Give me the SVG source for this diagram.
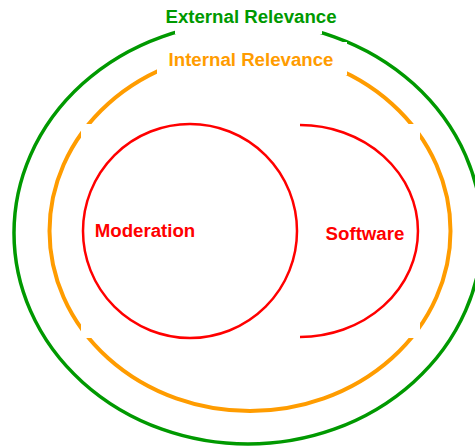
<svg xmlns="http://www.w3.org/2000/svg" width="475" height="448" viewBox="0 0 475 448">
  <style>
    .lbl { font-family: "Liberation Sans", Arial, sans-serif; font-weight: bold; font-size: 18.67px; text-anchor: middle; }
    .mask { fill: #ffffff; stroke: none; }
    .green { fill: none; stroke: #009900; stroke-width: 3.5; }
    .orange { fill: none; stroke: #ff9c00; stroke-width: 4; }
    .red { fill: none; stroke: #ff0000; stroke-width: 2.5; }
  </style>
  <rect x="0" y="0" width="475" height="448" fill="#ffffff"/>
  <g id="external-relevance">
    <ellipse class="green" cx="248" cy="233" rx="234" ry="211"/>
    <rect class="mask" x="175" y="0" width="147" height="34"/>
    <text class="lbl" x="251" y="23" fill="#009900">External Relevance</text>
  </g>
  <g id="internal-relevance">
    <ellipse class="orange" cx="250" cy="231" rx="200.5" ry="180"/>
    <rect class="mask" x="157" y="42" width="190" height="33"/>
    <text class="lbl" x="251" y="66" fill="#ff9c00">Internal Relevance</text>
  </g>
  <rect class="mask" x="81" y="124" width="339" height="214"/>
  <g id="moderation">
    <circle class="red" cx="190" cy="231" r="107"/>
    <text class="lbl" x="145" y="237" fill="#ff0000">Moderation</text>
  </g>
  <g id="software">
    <path class="red" d="M300,125 A118,106 0 0 1 300,337"/>
    <text class="lbl" x="365" y="240" fill="#ff0000">Software</text>
  </g>
  <g id="connectors"/>
</svg>
